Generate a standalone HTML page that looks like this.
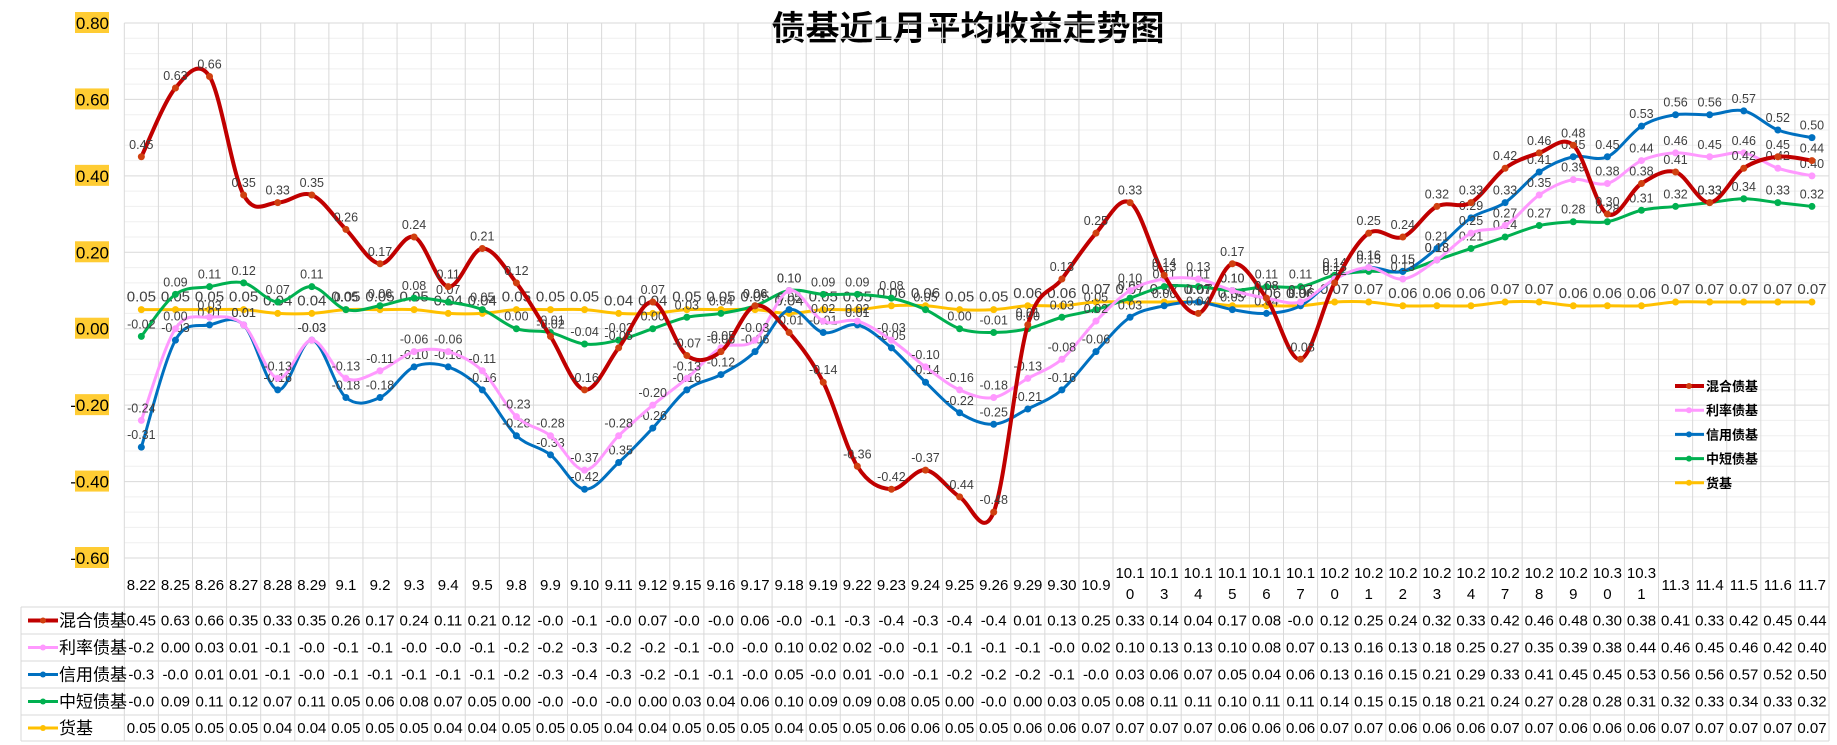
<!DOCTYPE html>
<html><head><meta charset="utf-8"><style>
body{margin:0;background:#fff;}
svg{display:block;font-family:"Liberation Sans","Noto Sans CJK SC",sans-serif;}
</style></head><body>
<svg id="c" width="1837" height="745" viewBox="0 0 1837 745" xmlns="http://www.w3.org/2000/svg">
<text x="968" y="40" text-anchor="middle" font-size="34" font-weight="bold" font-family="'Liberation Sans','Noto Sans CJK SC',sans-serif" fill="#000">债基近1月平均收益走势图</text>
</svg>
<script>
const categories=["8.22","8.25","8.26","8.27","8.28","8.29","9.1","9.2","9.3","9.4","9.5","9.8","9.9","9.10","9.11","9.12","9.15","9.16","9.17","9.18","9.19","9.22","9.23","9.24","9.25","9.26","9.29","9.30","10.9","10.10","10.13","10.14","10.15","10.16","10.17","10.20","10.21","10.22","10.23","10.24","10.27","10.28","10.29","10.30","10.31","11.3","11.4","11.5","11.6","11.7"];
const hybrid=[0.45,0.63,0.66,0.35,0.33,0.35,0.26,0.17,0.24,0.11,0.21,0.12,-0.02,-0.16,-0.05,0.07,-0.07,-0.06,0.06,-0.01,-0.14,-0.36,-0.42,-0.37,-0.44,-0.48,0.01,0.13,0.25,0.33,0.14,0.04,0.17,0.08,-0.08,0.12,0.25,0.24,0.32,0.33,0.42,0.46,0.48,0.30,0.38,0.41,0.33,0.42,0.45,0.44];
const rate=[-0.24,0.00,0.03,0.01,-0.13,-0.03,-0.13,-0.11,-0.06,-0.06,-0.11,-0.23,-0.28,-0.37,-0.28,-0.20,-0.13,-0.05,-0.03,0.10,0.02,0.02,-0.03,-0.10,-0.16,-0.18,-0.13,-0.08,0.02,0.10,0.13,0.13,0.10,0.08,0.07,0.13,0.16,0.13,0.18,0.25,0.27,0.35,0.39,0.38,0.44,0.46,0.45,0.46,0.42,0.40];
const credit=[-0.31,-0.03,0.01,0.01,-0.16,-0.03,-0.18,-0.18,-0.10,-0.10,-0.16,-0.28,-0.33,-0.42,-0.35,-0.26,-0.16,-0.12,-0.06,0.05,-0.01,0.01,-0.05,-0.14,-0.22,-0.25,-0.21,-0.16,-0.06,0.03,0.06,0.07,0.05,0.04,0.06,0.13,0.16,0.15,0.21,0.29,0.33,0.41,0.45,0.45,0.53,0.56,0.56,0.57,0.52,0.50];
const shortTerm=[-0.02,0.09,0.11,0.12,0.07,0.11,0.05,0.06,0.08,0.07,0.05,0.00,-0.01,-0.04,-0.03,0.00,0.03,0.04,0.06,0.10,0.09,0.09,0.08,0.05,0.00,-0.01,0.00,0.03,0.05,0.08,0.11,0.11,0.10,0.11,0.11,0.14,0.15,0.15,0.18,0.21,0.24,0.27,0.28,0.28,0.31,0.32,0.33,0.34,0.33,0.32];
const money=[0.05,0.05,0.05,0.05,0.04,0.04,0.05,0.05,0.05,0.04,0.04,0.05,0.05,0.05,0.04,0.04,0.05,0.05,0.05,0.04,0.05,0.05,0.06,0.06,0.05,0.05,0.06,0.06,0.07,0.07,0.07,0.07,0.06,0.06,0.06,0.07,0.07,0.06,0.06,0.06,0.07,0.07,0.06,0.06,0.06,0.07,0.07,0.07,0.07,0.07];
const seriesNames=["混合债基","利率债基","信用债基","中短债基","货基"];
const yTicks=[0.80,0.60,0.40,0.20,0.00,-0.20,-0.40,-0.60];

const NS="http://www.w3.org/2000/svg";
const svg=document.getElementById('c');
const L=124.3,R=1829,T=23,B=558,yMax=0.8,yMin=-0.6;
const cw=(R-L)/categories.length;
const xs=i=>L+cw*(i+0.5);
const ys=v=>T+(yMax-v)/(yMax-yMin)*(B-T);
function mk(tag,attrs,parent){const e=document.createElementNS(NS,tag);for(const k in attrs)e.setAttribute(k,attrs[k]);(parent||svg).appendChild(e);return e;}
const series=[
 {name:seriesNames[0],data:hybrid,color:"#C00000",w:4,key:"hybrid"},
 {name:seriesNames[1],data:rate,color:"#FF99FF",w:3,key:"rate"},
 {name:seriesNames[2],data:credit,color:"#0070C0",w:3,key:"credit"},
 {name:seriesNames[3],data:shortTerm,color:"#00B050",w:3,key:"short"},
 {name:seriesNames[4],data:money,color:"#FFC000",w:3,key:"money"}];

const grid=mk('g',{});


for(let k=0;k<=35;k++){const v=yMax-k*0.04;const y=ys(v);const major=Math.abs(Math.round(v*100)%20)<0.5;
 mk('line',{x1:L,x2:R,y1:y,y2:y,stroke:major?'#d9d9d9':'#efefef','stroke-width':1},grid);}
const tRows=[607,634,661,688,715,741];
for(let i=0;i<=categories.length;i++){const x=L+cw*i;mk('line',{x1:x,x2:x,y1:T,y2:741,stroke:'#d9d9d9','stroke-width':1},grid);}
mk('line',{x1:21,x2:21,y1:607,y2:741,stroke:'#d9d9d9'},grid);
mk('line',{x1:L,x2:R,y1:B,y2:B,stroke:'#d9d9d9'},grid);
tRows.forEach(y=>mk('line',{x1:21,x2:R,y1:y,y2:y,stroke:'#d9d9d9'},grid));

yTicks.forEach(v=>{const y=ys(v);const g=mk('g',{});
 
 
 mk('rect',{x:75,y:y-11,width:34,height:21,fill:'#FFCC33'},g);
 const t=mk('text',{x:109,y:y+6,'text-anchor':'end','font-size':17,fill:'#000'},g);t.textContent=v.toFixed(2);});

categories.forEach((c,i)=>{const t=mk('text',{x:xs(i),'text-anchor':'middle','font-size':15,fill:'#000'});
 
 
 if(c.length>4){const a=mk('tspan',{x:xs(i),y:578},t);a.textContent=c.slice(0,4);const b=mk('tspan',{x:xs(i),y:599},t);b.textContent=c.slice(4);}
 else{t.setAttribute('y',590);t.textContent=c;}});

function smooth(pts){let d=`M${pts[0][0]},${pts[0][1]}`;const t=0.5/3*2;
 for(let i=0;i<pts.length-1;i++){const p0=pts[i-1]||pts[i],p1=pts[i],p2=pts[i+1],p3=pts[i+2]||p2;
  const c1=[p1[0]+(p2[0]-p0[0])*t/2,p1[1]+(p2[1]-p0[1])*t/2],c2=[p2[0]-(p3[0]-p1[0])*t/2,p2[1]-(p3[1]-p1[1])*t/2];
  d+=` C${c1[0]},${c1[1]} ${c2[0]},${c2[1]} ${p2[0]},${p2[1]}`;}return d;}

[...series].reverse().forEach(s=>{const g=mk('g',{});
 
 
 const pts=s.data.map((v,i)=>[xs(i),ys(v)]);
 const p=mk('path',{d:smooth(pts),fill:'none',stroke:s.color,'stroke-width':s.w,'stroke-linejoin':'round'},g);
 
 
 s.data.forEach((v,i)=>{const c=mk('circle',{cx:xs(i),cy:ys(v),r:3.5,fill:s.key==='hybrid'?'#D04010':s.color},g);
  
  
  const t=mk('text',{x:xs(i),y:ys(v)-8,'text-anchor':'middle','font-size':s.key==='money'?15:12.5,fill:'#404040'},g);
  
  
  t.textContent=v.toFixed(2);});});

series.forEach((s,k)=>{const y=386+k*24.2;const g=mk('g',{});
 
 
 mk('line',{x1:1675,x2:1704,y1:y,y2:y,stroke:s.color,'stroke-width':s.w},g);
 mk('circle',{cx:1689,cy:y,r:3,fill:s.key==='hybrid'?'#D04010':s.color},g);
 const t=mk('text',{x:1706,y:y+5,'font-size':13,'font-weight':'bold',fill:'#000'},g);t.textContent=s.name;});

function fmt(v){if(v<0){return '-'+(Math.floor(-v*10)/10).toFixed(1);}return v.toFixed(2);}
series.forEach((s,k)=>{const yc=(tRows[k]+tRows[k+1])/2;const g=mk('g',{});
 
 
 mk('line',{x1:28,x2:58,y1:yc,y2:yc,stroke:s.color,'stroke-width':s.w},g);
 mk('circle',{cx:43,cy:yc,r:3,fill:s.key==='hybrid'?'#D04010':s.color},g);
 const n=mk('text',{x:59,y:yc+6,'font-size':17,fill:'#000'},g);n.textContent=s.name;
 s.data.forEach((v,i)=>{const t=mk('text',{x:xs(i),y:yc+5,'text-anchor':'middle','font-size':15,fill:'#000'},g);t.textContent=fmt(v);});});
</script>
</body></html>
